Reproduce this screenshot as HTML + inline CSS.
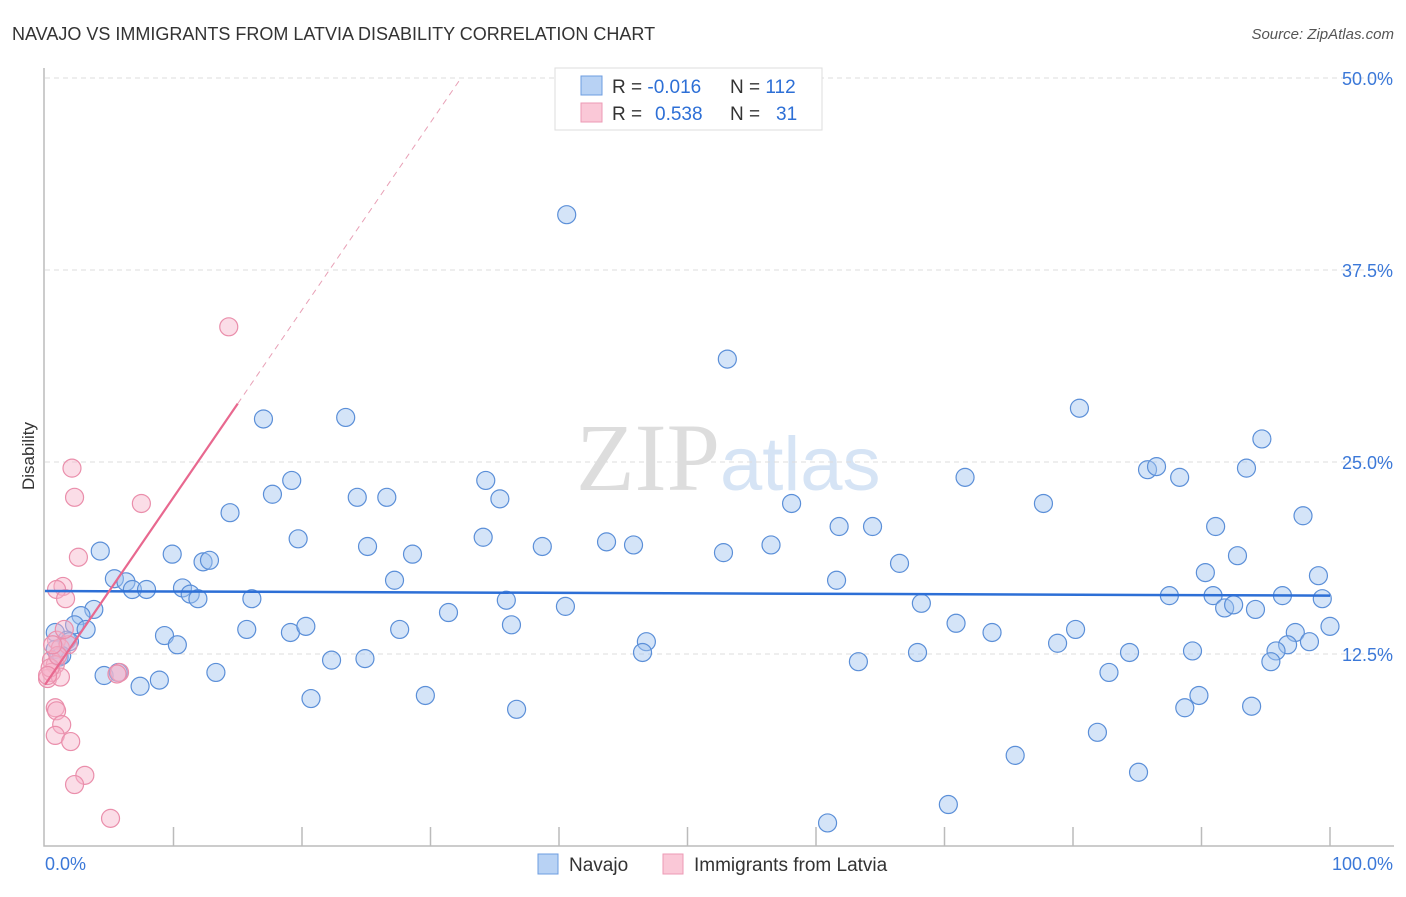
<!DOCTYPE html>
<html><head><meta charset="utf-8"><style>
body{margin:0;background:#fff;font-family:"Liberation Sans",sans-serif;}
</style></head><body>
<svg id="chart" width="1406" height="892" xmlns="http://www.w3.org/2000/svg">
<text x="12" y="40" font-size="18" fill="#333">NAVAJO VS IMMIGRANTS FROM LATVIA DISABILITY CORRELATION CHART</text>
<text x="1394" y="39" font-size="15" fill="#555" font-style="italic" text-anchor="end">Source: ZipAtlas.com</text>
<text x="720" y="490" font-size="96" fill="#ddd" text-anchor="end" font-family="Liberation Serif,serif">ZIP</text>
<text x="720" y="490" font-size="76" fill="#d6e4f5">atlas</text>
<text x="34" y="456" font-size="17" fill="#333" text-anchor="middle" transform="rotate(-90 34 456)">Disability</text>
<g id="grid"></g><g id="axes"></g><g id="marks"></g>
<g>
<rect x="555" y="68" width="267" height="62" fill="#fff" stroke="#ddd"/>
<rect x="581" y="76" width="21" height="19" fill="#b8d2f4" stroke="#6d9de0"/>
<rect x="581" y="103" width="21" height="19" fill="#fac8d7" stroke="#ec9ab4"/>
<text x="612" y="93" font-size="19" fill="#333">R = <tspan fill="#2d6fd6">-0.016</tspan></text>
<text x="730" y="93" font-size="19" fill="#333">N = <tspan fill="#2d6fd6">112</tspan></text>
<text x="612" y="120" font-size="19" fill="#333">R = <tspan fill="#2d6fd6" x="655">0.538</tspan></text>
<text x="730" y="120" font-size="19" fill="#333">N = <tspan fill="#2d6fd6" x="776">31</tspan></text>
</g>
<g>
<rect x="538" y="854" width="20" height="20" fill="#b8d2f4" stroke="#6d9de0"/>
<text x="569" y="871" font-size="19" fill="#333">Navajo</text>
<rect x="663" y="854" width="20" height="20" fill="#fac8d7" stroke="#ec9ab4"/>
<text x="694" y="871" font-size="19" fill="#333">Immigrants from Latvia</text>
</g>
</svg>
<script>
const yTicks=[12.5,25,37.5,50];
const yTickLabels=["12.5%","25.0%","37.5%","50.0%"];
const xTickLabels=["0.0%","100.0%"];
const navajoX=[40.6,53.1,17.0,23.4,80.5,94.7,19.2,34.3,85.8,86.5,88.3,93.5,71.6,17.7,24.3,26.6,35.4,14.4,58.1,77.7,97.9,61.8,64.4,91.1,19.7,34.1,43.7,45.8,25.1,38.7,56.5,4.3,9.9,28.6,52.8,12.3,12.8,66.5,92.8,90.3,99.1,5.4,6.3,6.8,7.9,10.7,11.3,11.9,16.1,27.2,61.6,87.5,90.9,96.3,99.4,35.9,40.5,68.2,91.8,92.5,94.2,3.8,2.8,2.3,3.2,31.4,36.3,70.9,0.8,1.7,9.3,10.3,15.7,19.1,20.3,27.6,73.7,80.2,97.3,100,46.8,46.5,78.8,98.4,96.7,95.8,67.9,84.4,89.3,1.1,0.8,22.3,24.9,63.3,95.4,4.6,5.7,8.9,7.4,13.3,82.8,20.7,29.6,36.7,89.8,88.7,93.9,81.9,75.5,85.1,70.3,60.9,1.9,1.3];
const navajoY=[41.1,31.7,27.8,27.9,28.5,26.5,23.8,23.8,24.5,24.7,24.0,24.6,24.0,22.9,22.7,22.7,22.6,21.7,22.3,22.3,21.5,20.8,20.8,20.8,20.0,20.1,19.8,19.6,19.5,19.5,19.6,19.2,19.0,19.0,19.1,18.5,18.6,18.4,18.9,17.8,17.6,17.4,17.2,16.7,16.7,16.8,16.4,16.1,16.1,17.3,17.3,16.3,16.3,16.3,16.1,16.0,15.6,15.8,15.5,15.7,15.4,15.4,15.0,14.4,14.1,15.2,14.4,14.5,13.9,13.4,13.7,13.1,14.1,13.9,14.3,14.1,13.9,14.1,13.9,14.3,13.3,12.6,13.2,13.3,13.1,12.7,12.6,12.6,12.7,12.3,12.8,12.1,12.2,12.0,12.0,11.1,11.3,10.8,10.4,11.3,11.3,9.6,9.8,8.9,9.8,9.0,9.1,7.4,5.9,4.8,2.7,1.5,13.3,12.4];
const latviaX=[14.3,2.1,2.3,7.5,2.6,1.4,0.9,1.6,0.9,1.2,1.8,0.5,0.8,0.2,0.5,1.2,0.4,5.8,5.6,0.8,0.9,1.3,0.8,2.0,3.1,2.3,5.1,1.0,0.6,1.5,0.2];
const latviaY=[33.8,24.6,22.7,22.3,18.8,16.9,16.7,16.1,13.4,12.9,13.1,12.1,11.8,10.9,11.3,11.0,11.6,11.3,11.2,9.0,8.8,7.9,7.2,6.8,4.6,4.0,1.8,12.4,13.1,14.1,11.1];
const navajoTrend=[16.6,16.3];
const latviaTrend=[10.5,1.22];
const X0=45,X1=1330,Y0=846,Y50=78;
const sx=v=>X0+(X1-X0)*v/100;
const sy=v=>Y0-(Y0-Y50)*v/50;
const NS="http://www.w3.org/2000/svg";
function mk(tag,parent,attrs){const e=document.createElementNS(NS,tag);for(const k in attrs)e.setAttribute(k,attrs[k]);document.getElementById(parent).appendChild(e);return e;}
yTicks.forEach((t,i)=>{
 const g=mk('line','grid',{x1:45,x2:1394,y1:sy(t),y2:sy(t),stroke:'#ddd','stroke-dasharray':'5,4'});
 
 
 const l=mk('text','axes',{x:1393,y:sy(t)+7,'font-size':18,fill:'#3b78d8','text-anchor':'end'});
 l.textContent=yTickLabels[i];
 
 
});
const ax=mk('path','axes',{d:`M44 68V846H1394`,stroke:'#bbb',fill:'none','stroke-width':1.5});


for(let i=1;i<=10;i++){
 const t=mk('line','axes',{x1:sx(i*10),x2:sx(i*10),y1:827,y2:846,stroke:'#bbb','stroke-width':1.5});
 
 
}
const xl0=mk('text','axes',{x:45,y:870,'font-size':18,fill:'#3b78d8'});xl0.textContent=xTickLabels[0];


const xl1=mk('text','axes',{x:1393,y:870,'font-size':18,fill:'#3b78d8','text-anchor':'end'});xl1.textContent=xTickLabels[1];


navajoX.forEach((x,i)=>{
 const c=mk('circle','marks',{cx:sx(x),cy:sy(navajoY[i]),r:9,fill:'rgba(160,196,240,0.45)',stroke:'#5b8fd8','stroke-width':1.2});
 
 
});
latviaX.forEach((x,i)=>{
 const c=mk('circle','marks',{cx:sx(x),cy:sy(latviaY[i]),r:9,fill:'rgba(246,180,202,0.45)',stroke:'#ea8eab','stroke-width':1.2});
 
 
});
const bt=mk('line','marks',{x1:sx(0),x2:sx(100),y1:sy(navajoTrend[0]),y2:sy(navajoTrend[1]),stroke:'#2d6fd6','stroke-width':2.5});


const xe=(50-latviaTrend[0])/latviaTrend[1];
const pt=mk('line','marks',{x1:sx(0),x2:sx(15),y1:sy(latviaTrend[0]),y2:sy(latviaTrend[0]+15*latviaTrend[1]),stroke:'#e8688f','stroke-width':2.2});


const pd=mk('line','marks',{x1:sx(15),x2:sx(xe),y1:sy(latviaTrend[0]+15*latviaTrend[1]),y2:sy(50),stroke:'#e8a0b6','stroke-width':1,'stroke-dasharray':'6,5'});


</script>
</body></html>
